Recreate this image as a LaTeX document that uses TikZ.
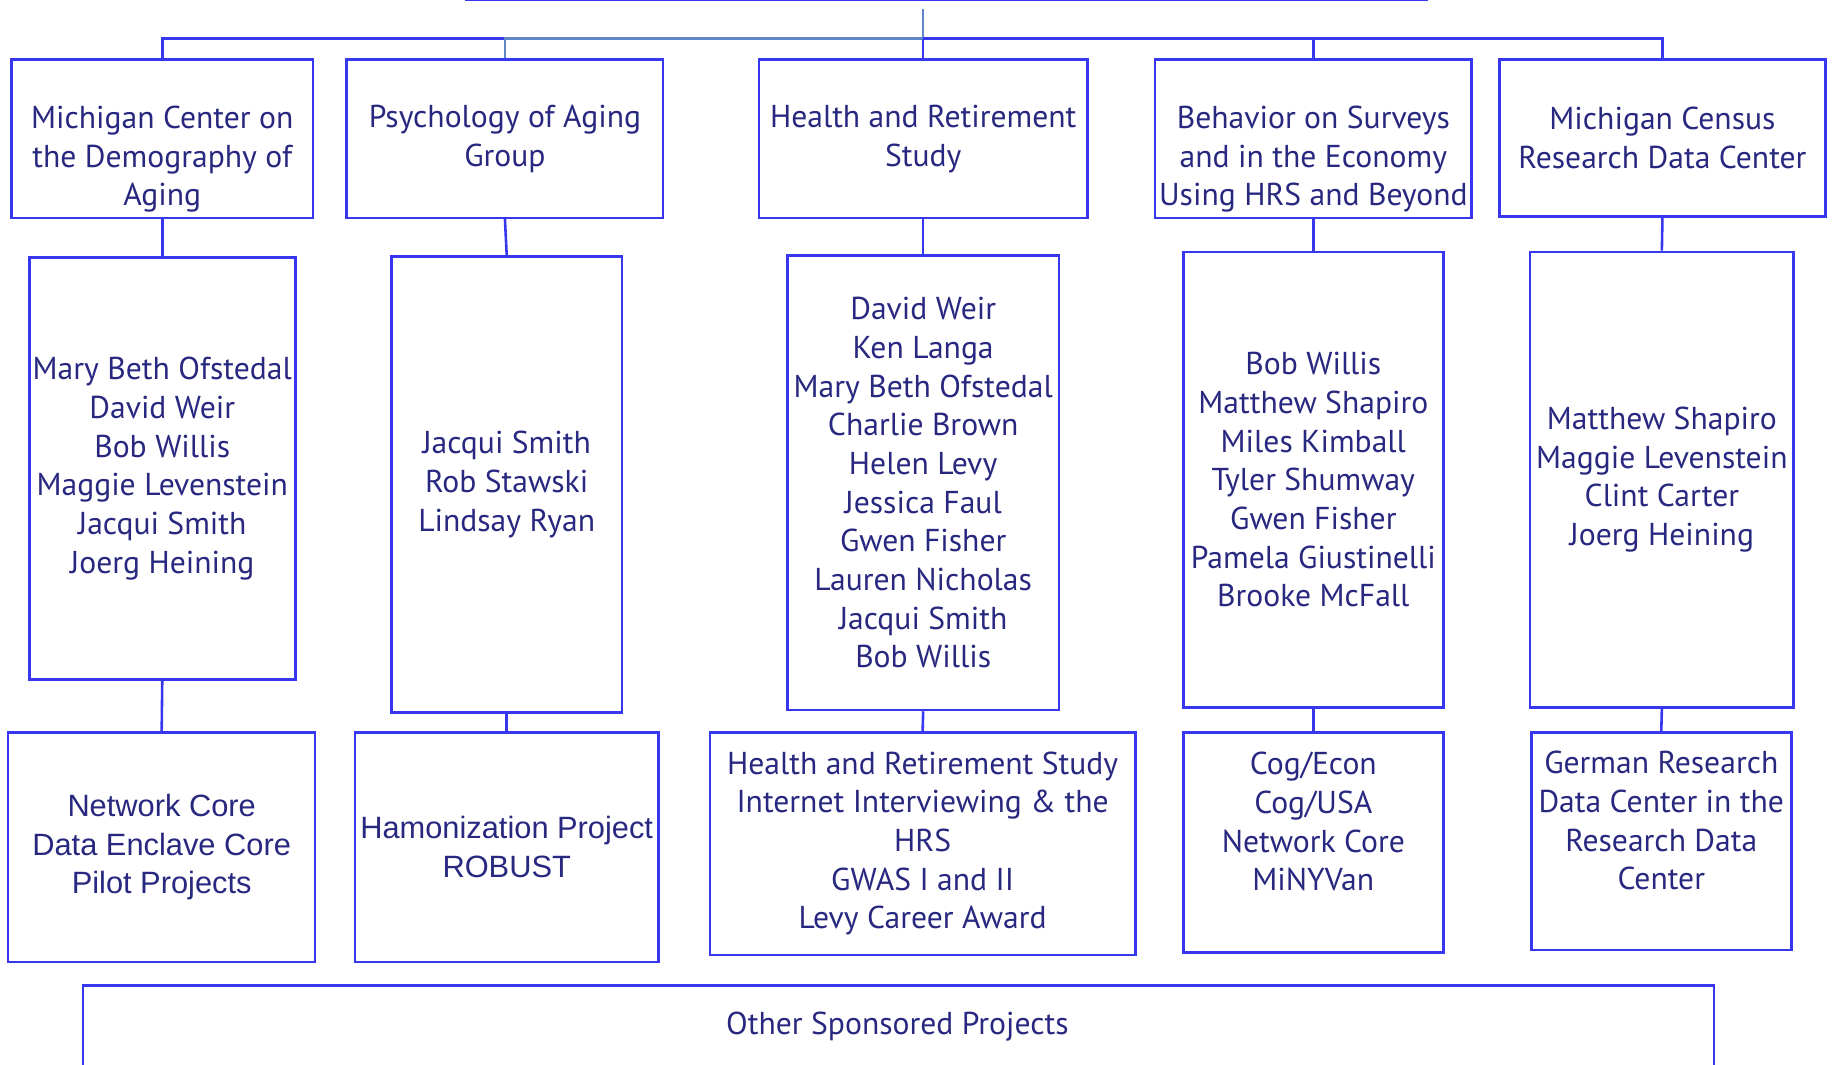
\documentclass[tikz,border=0pt]{standalone}
\usepackage{fontspec}
\setmainfont{PT Sans}
\newfontfamily\arialfont{Liberation Sans}

\definecolor{orgline}{RGB}{55,55,240}
\definecolor{orgsteel}{RGB}{95,135,200}
\definecolor{orgtext}{RGB}{40,40,128}

\tikzset{
  box/.style={draw=orgline, line width=2.2pt, align=center, text=orgtext,
              font=\fontsize{27}{33}\selectfont, inner sep=0pt},
  txt/.style={align=center, text=orgtext, font=\fontsize{27}{33}\selectfont},
  arial/.style={font=\arialfont\fontsize{26.3}{33}\selectfont},
  link/.style={draw=orgline, line width=2.2pt},
  steel/.style={draw=orgsteel, line width=2.2pt},
}

\begin{document}
\begin{tikzpicture}[x=1pt, y=-1pt]
  \clip (0,0) rectangle (1568,909);

  % top of the chart (cut off)
  \node[box, minimum width=820pt, minimum height=40pt] (top) at (808,-20) {};
  \coordinate (stem) at (788,8);
  \coordinate (bus) at (0,33);

  % first row
  \node[box, minimum width=257pt, minimum height=135pt] (dem) at (138.5,118.5) {};
  \node[txt] (dem-t) at (138.5,136) {Michigan Center on\\the Demography of\\Aging};
  \node[box, minimum width=270pt, minimum height=135pt] (psy) at (431,118.5) {Psychology of Aging\\Group};
  \node[box, minimum width=280pt, minimum height=135pt] (hrs) at (788,118.5) {Health and Retirement\\Study};
  \node[box, minimum width=270pt, minimum height=135pt] (bos) at (1121,118.5) {};
  \node[txt] (bos-t) at (1121,136) {Behavior on Surveys\\and in the Economy\\Using HRS and Beyond};
  \node[box, minimum width=278pt, minimum height=134pt] (rdc) at (1419,118) {Michigan Census\\Research Data Center};

  % second row
  \node[box, minimum width=227pt, minimum height=360pt] (dem-p) at (138.5,400)
    {Mary Beth Ofstedal\\David Weir\\Bob Willis\\Maggie Levenstein\\Jacqui Smith\\Joerg Heining};
  \node[box, minimum width=197pt, minimum height=389pt] (psy-p) at (432.5,413.5)
    {Jacqui Smith\\Rob Stawski\\Lindsay Ryan};
  \node[box, minimum width=232pt, minimum height=388pt] (hrs-p) at (788,412)
    {David Weir\\Ken Langa\\Mary Beth Ofstedal\\Charlie Brown\\Helen Levy\\Jessica Faul\\Gwen Fisher\\Lauren Nicholas\\Jacqui Smith\\Bob Willis};
  \node[box, minimum width=222pt, minimum height=389pt] (bos-p) at (1121,409.5)
    {Bob Willis\\Matthew Shapiro\\Miles Kimball\\Tyler Shumway\\Gwen Fisher\\Pamela Giustinelli\\Brooke McFall};
  \node[box, minimum width=225pt, minimum height=389pt] (rdc-p) at (1418.5,409.5)
    {Matthew Shapiro\\Maggie Levenstein\\Clint Carter\\Joerg Heining};

  % third row
  \node[box, arial, minimum width=262pt, minimum height=196pt] (dem-x) at (138,723)
    {Network Core\\Data Enclave Core\\Pilot Projects};
  \node[box, arial, minimum width=259pt, minimum height=196pt] (psy-x) at (432.5,723)
    {Hamonization Project\\ROBUST};
  \node[box, minimum width=363pt, minimum height=190pt] (hrs-x) at (787.5,720)
    {Health and Retirement Study\\Internet Interviewing \& the\\HRS\\GWAS I and II\\Levy Career Award};
  \node[box, minimum width=222pt, minimum height=188pt] (bos-x) at (1121,719) {};
  \node[txt] (bos-xt) at (1121,701.5) {Cog/Econ\\Cog/USA\\Network Core\\MiNYVan};
  \node[box, minimum width=222pt, minimum height=186pt] (rdc-x) at (1418,718) {};
  \node[txt] (rdc-xt) at (1418,700.5) {German Research\\Data Center in the\\Research Data\\Center};

  % bottom
  \node[box, minimum width=1392pt, minimum height=120pt] (other) at (767,901) {};
  \node[txt] (other-t) at (766,876) {Other Sponsored Projects};

  % connectors
  \draw[steel] (stem) -- (stem |- bus);
  \draw[link] (dem.north) |- (psy.north |- bus);
  \draw[steel] (psy.north) -- (psy.north |- bus) -- (hrs.north |- bus);
  \draw[link] (hrs.north |- bus) -| (rdc.north);
  \draw[link] (hrs.north) -- (hrs.north |- bus);
  \draw[link] (bos.north) -- (bos.north |- bus);
  \foreach \g in {dem,psy,hrs,bos,rdc} {
    \draw[link] (\g.south) -- (\g-p.north);
    \draw[link] (\g-p.south) -- (\g-x.north);
  }
\end{tikzpicture}
\end{document}
